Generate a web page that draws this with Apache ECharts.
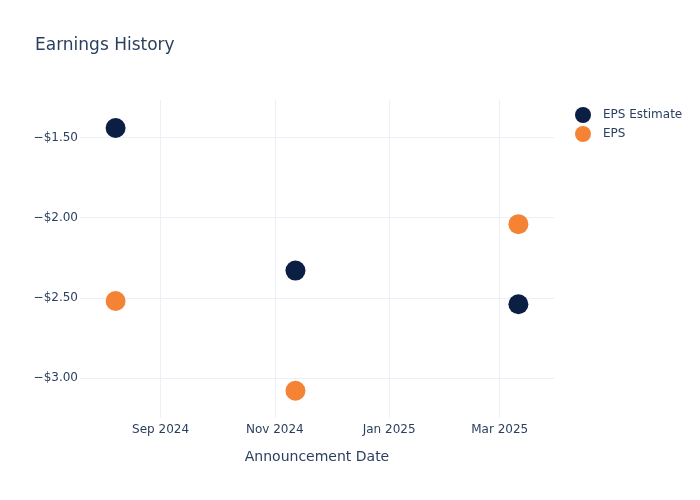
<!DOCTYPE html>
<html>
<head>
<meta charset="utf-8">
<script src="https://cdn.jsdelivr.net/npm/echarts@6/dist/echarts.min.js"></script>
<style>
  html, body { margin: 0; padding: 0; background: #fff; }
  #chart { width: 700px; height: 500px; }
</style>
</head>
<body>
<div id="chart"></div>
<script>
// Announcement dates and EPS values
const dates = ['2024-08-08', '2024-11-12', '2025-03-11'];
const epsEstimate = [-1.44, -2.33, -2.54];
const epsActual = [-2.52, -3.08, -2.04];

const xTicks = ['2024-09-01', '2024-11-01', '2025-01-01', '2025-03-01'];
const yTicks = [-3.0, -2.5, -2.0, -1.5];
const monthNames = ['Jan', 'Feb', 'Mar', 'Apr', 'May', 'Jun', 'Jul', 'Aug', 'Sep', 'Oct', 'Nov', 'Dec'];

const textColor = '#2a3f5f';
const gridColor = '#ebf0f8';
const font = 'DejaVu Sans';

const toTime = s => {
    const p = s.split('-').map(Number);
    return Date.UTC(p[0], p[1] - 1, p[2]);
};
const xTickValues = xTicks.map(toTime);

const chart = echarts.init(document.getElementById('chart'));

// value axis over timestamps (time axis chokes on customValues)
chart.setOption({
    backgroundColor: '#fff',
    textStyle: { fontFamily: font },
    title: {
        text: 'Earnings History',
        left: 30,
        top: 32,
        textStyle: { fontFamily: font, fontSize: 17, fontWeight: 'normal', color: textColor }
    },
    legend: {
        orient: 'vertical',
        left: 570,
        top: 102,
        itemWidth: 16,
        itemHeight: 16,
        itemGap: 3,
        icon: 'circle',
        textStyle: { fontFamily: font, fontSize: 12, color: textColor, padding: [0, 0, 0, 7] },
        data: ['EPS Estimate', 'EPS']
    },
    grid: { left: 80, right: 146, top: 100, bottom: 82 },
    xAxis: {
        type: 'value',
        min: toTime('2024-07-20'),
        max: toTime('2025-03-30'),
        name: 'Announcement Date',
        nameLocation: 'middle',
        nameGap: 32,
        nameTextStyle: { fontFamily: font, fontSize: 14, color: textColor },
        axisLine: { show: false },
        axisTick: { show: false, customValues: xTickValues },
        axisLabel: {
            customValues: xTickValues,
            margin: 6,
            fontFamily: font,
            fontSize: 12,
            color: textColor,
            formatter: v => {
                const d = new Date(v);
                return monthNames[d.getUTCMonth()] + ' ' + d.getUTCFullYear();
            }
        },
        splitLine: { show: true, lineStyle: { color: gridColor, width: 1 } }
    },
    yAxis: {
        type: 'value',
        min: -3.25,
        max: -1.265,
        axisLine: { show: false },
        axisTick: { show: false, customValues: yTicks },
        axisLabel: {
            customValues: yTicks,
            margin: 2,
            fontFamily: font,
            fontSize: 12,
            color: textColor,
            formatter: v => (v < 0 ? '\u2212' : '') + '$' + Math.abs(v).toFixed(2)
        },
        splitLine: { show: true, lineStyle: { color: gridColor, width: 1 } }
    },
    series: [
        {
            name: 'EPS Estimate',
            type: 'scatter',
            symbolSize: 20,
            itemStyle: { color: '#0b1e43', opacity: 1 },
            data: dates.map((d, i) => [toTime(d), epsEstimate[i]])
        },
        {
            name: 'EPS',
            type: 'scatter',
            symbolSize: 20,
            itemStyle: { color: '#f58336', opacity: 1 },
            data: dates.map((d, i) => [toTime(d), epsActual[i]])
        }
    ]
});
</script>
</body>
</html>
